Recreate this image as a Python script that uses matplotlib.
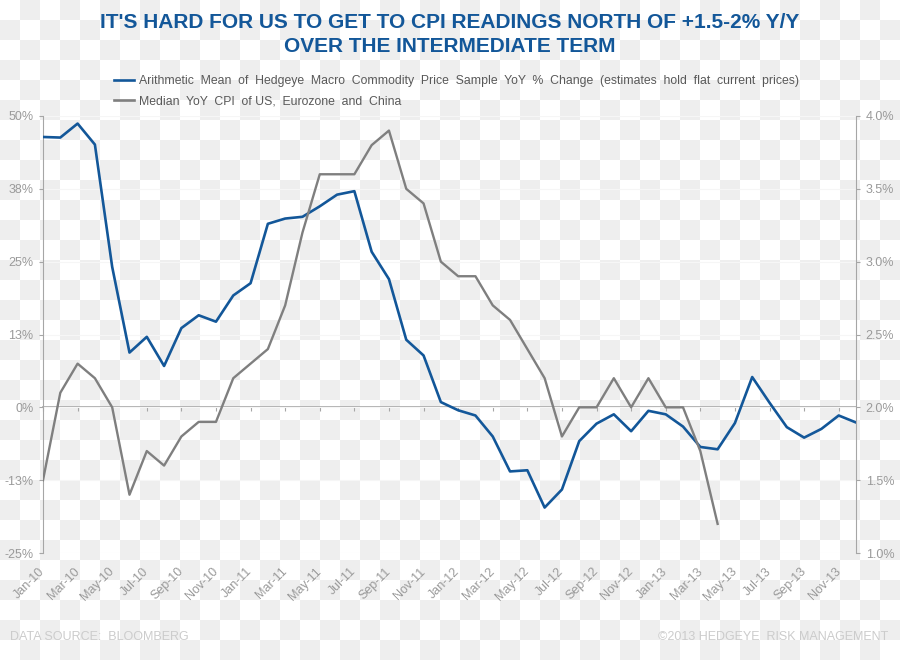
import numpy as np
import matplotlib; matplotlib.use("Agg")
import matplotlib.pyplot as plt
from matplotlib.colors import ListedColormap
from matplotlib.lines import Line2D

plt.rcParams["font.family"] = ["Liberation Sans", "DejaVu Sans"]

# ---------------------------------------------------------------------------
# data, monthly Jan-10 .. Dec-13
# ---------------------------------------------------------------------------
MONTHS = [f"{m}-{y}" for y in ["10", "11", "12", "13"]
          for m in ["Jan", "Feb", "Mar", "Apr", "May", "Jun",
                    "Jul", "Aug", "Sep", "Oct", "Nov", "Dec"]]

# Hedgeye commodity sample, YoY % (left axis)
commodity = [46.4, 46.3, 48.7, 45.1, 24.1, 9.4, 12.1, 7.1, 13.6, 15.8,
             14.7, 19.2, 21.3, 31.5, 32.4, 32.7, 34.5, 36.5, 37.1, 26.7,
             22.0, 11.6, 8.9, 0.9, -0.5, -1.4, -5.0, -11.0, -10.8, -17.2,
             -14.1, -5.8, -2.8, -1.2, -4.1, -0.6, -1.2, -3.3, -6.8, -7.2,
             -2.7, 5.2, 0.8, -3.4, -5.2, -3.7, -1.4, -2.6]

# median CPI of US / Eurozone / China, YoY % (right axis), ends Apr-13
cpi = [1.5, 2.1, 2.3, 2.2, 2.0, 1.4, 1.7, 1.6, 1.8, 1.9,
       1.9, 2.2, 2.3, 2.4, 2.7, 3.2, 3.6, 3.6, 3.6, 3.8,
       3.9, 3.5, 3.4, 3.0, 2.9, 2.9, 2.7, 2.6, 2.4, 2.2,
       1.8, 2.0, 2.0, 2.2, 2.0, 2.2, 2.0, 2.0, 1.7, 1.2]

LEFT_TICKS = [-25, -12.5, 0, 12.5, 25, 37.5, 50]
LEFT_LABELS = ["-25%", "-13%", "0%", "13%", "25%", "38%", "50%"]
RIGHT_TICKS = [1.0, 1.5, 2.0, 2.5, 3.0, 3.5, 4.0]

BLUE = "#135799"
GREY = "#7f7f7f"
AXC = "#a6a6a6"
TXT = "#9a9a9a"

fig = plt.figure(figsize=(9, 6.6), dpi=100)

# transparent-png checkerboard behind everything
bg = fig.add_axes([0, 0, 1, 1], zorder=-10)
r, c = np.indices((33, 45))
bg.imshow((r + c) % 2, cmap=ListedColormap(["#ffffff", "#eeeeee"]),
          aspect="auto", interpolation="nearest", extent=(0, 1, 0, 1))
bg.axis("off")

ax = fig.add_axes([43/900, 1-553/660, 813/900, 437/660])
ax.patch.set_alpha(0)
ax2 = ax.twinx()

x = np.arange(len(MONTHS))
ax.plot(x, commodity, color=BLUE, lw=1.9, zorder=3)
ax2.plot(x[:len(cpi)], cpi, color=GREY, lw=1.7, zorder=2)

ax.set_xlim(0, len(MONTHS) - 1)
ax.set_ylim(-25, 50)
ax2.set_ylim(1.0, 4.0)

ax.set_yticks(LEFT_TICKS)
ax.set_yticklabels(LEFT_LABELS)
ax2.set_yticks(RIGHT_TICKS)
ax2.set_yticklabels([f"{v:.1f}%" for v in RIGHT_TICKS])
ax.grid(axis="y", color="#f6f6f6", lw=0.8)
ax.set_axisbelow(True)

ax.set_xticks(x[::2])
ax.set_xticklabels(MONTHS[::2], rotation=45, ha="right", va="center",
                   rotation_mode="anchor")
ax.tick_params(axis="x", length=0, pad=12, labelsize=9, labelcolor=TXT)
ax.tick_params(axis="y", length=3, color=AXC, pad=4, labelsize=9, labelcolor=TXT)
ax2.tick_params(axis="y", length=3, color=AXC, pad=4, labelsize=9, labelcolor=TXT)

for a in (ax, ax2):
    for s in ("top", "bottom"):
        a.spines[s].set_visible(False)
    a.spines["left"].set_color(AXC)
    a.spines["right"].set_color(AXC)
ax.spines["right"].set_visible(False)
ax2.spines["left"].set_visible(False)

# zero line with the small month ticks
zero = ax.secondary_xaxis(1/3)
zero.set_xticks(x[::2])
zero.tick_params(length=3, color=AXC, labelbottom=False)
zero.spines["bottom"].set_color(AXC)
zero.spines["bottom"].set_linewidth(1.2)

# title
fig.text(0.5, 1-22/660, "IT'S HARD FOR US TO GET TO CPI READINGS NORTH OF +1.5-2% Y/Y",
         ha="center", va="center", fontsize=15, fontweight="bold", color=BLUE)
fig.text(0.5, 1-47/660, "OVER THE INTERMEDIATE TERM",
         ha="center", va="center", fontsize=15, fontweight="bold", color=BLUE)

# legend
handles = [Line2D([], [], color=BLUE, lw=1.9), Line2D([], [], color=GREY, lw=1.9)]
labels = ["Arithmetic  Mean  of  Hedgeye  Macro  Commodity  Price  Sample  YoY  %  Change  (estimates  hold  flat  current  prices)",
          "Median  YoY  CPI  of US,  Eurozone  and  China"]
fig.legend(handles, labels, loc="upper left", bbox_to_anchor=(114/900, 1-75/660),
           frameon=False, fontsize=8.8, handlelength=1.65, handletextpad=0.4,
           labelspacing=0.7, borderpad=0, borderaxespad=0, labelcolor="#595959")

# footer
fig.text(10/900, 1-637/660, "DATA SOURCE:  BLOOMBERG", ha="left", va="center",
         fontsize=9, color="#cccccc")
fig.text(888/900, 1-637/660, "©2013 HEDGEYE  RISK MANAGEMENT", ha="right", va="center",
         fontsize=9, color="#cccccc")

plt.savefig("out.png", dpi=100)
